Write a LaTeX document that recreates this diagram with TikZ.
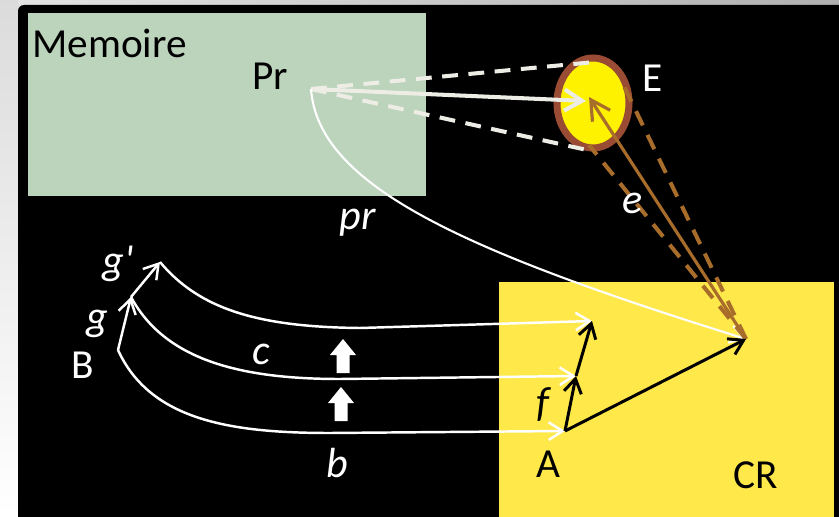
\documentclass[tikz,border=0pt]{standalone}
\usepackage{fontspec}
\setmainfont{Carlito}
\usetikzlibrary{arrows.meta, positioning, calc}
\definecolor{memGreen}{HTML}{BCD3BC}
\definecolor{crYellow}{HTML}{FFE84A}
\definecolor{eRim}{HTML}{9A4B33}
\definecolor{eBrown}{HTML}{A86C2B}
\definecolor{softWhite}{HTML}{EDEDE6}

\begin{document}
\begin{tikzpicture}[x=0.02cm, y=-0.02cm,
  big/.style={font=\fontsize{23.5}{27}\selectfont, inner sep=0pt},
  var/.style={font=\fontsize{24}{28}\selectfont\itshape, inner sep=0pt, white},
  barb/.style={-{Straight Barb[length=8pt, width=10pt]}},
  wcurve/.style={white, line width=1.4pt, barb},
  karrow/.style={black, line width=1.7pt, barb},
  dashline/.style={line width=2.3pt, dash pattern=on 9pt off 6pt}]
  % slide edge and black panel
  \shade[top color=gray!28, bottom color=white] (0,0) rectangle (839,517);
  \shade[left color=gray!22, right color=gray!62] (18,0) rectangle (839,6);
  \fill[black] (18,517) -- (18,11) arc[start angle=180, end angle=270, radius=6]
    -- (839,5) -- (839,517) -- cycle;
  % memory block and CR block
  \fill[memGreen] (28,13) rectangle (426,196);
  \fill[crYellow] (499,282) rectangle (834,517);
  \node[big, anchor=base west] (memoire) at (32,58) {Memoire};
  \node[big, anchor=base west] (prlbl) at (252,90) {Pr};
  \node[big, white, anchor=base west] (elbl) at (642,92) {E};
  \node[big, anchor=base west] (albl) at (536,477) {A};
  \node[big, anchor=base west] (crlbl) at (733,488) {CR};
  \node[big, white, anchor=base west] (blbl) at (71,378) {B};
  % points
  \coordinate (prpt) at (311,89);
  \coordinate (ectr) at (593,103);
  \coordinate (etop) at (595,62);
  \coordinate (ebot) at (587,150);
  \coordinate (ehit) at (586,101);
  \coordinate (ebrown) at (589,97);
  \coordinate (eleft) at (589,145);
  \coordinate (eright) at (620,78);
  \coordinate (crpt) at (746,339);
  \coordinate (bpt) at (118,350);
  \coordinate (gpt) at (131,297);
  \coordinate (gppt) at (160,262);
  \coordinate (apt) at (565,431);
  \coordinate (fa) at (576,376);
  \coordinate (fb) at (592,321);
  % E ball
  \draw[eRim, line width=4pt, fill=yellow] (ectr) ellipse [x radius=36, y radius=45];
  % Pr -> E
  \draw[softWhite, dashline] (prpt) -- (etop) (prpt) -- (ebot);
  \draw[softWhite, line width=2.3pt, -{Straight Barb[length=10pt, width=12pt]}] (prpt) -- (ehit);
  % pr
  \draw[wcurve, line width=1.2pt] (prpt) .. controls (318,185) and (460,250) .. (crpt);
  \node[var, anchor=base west] (prvar) at (339,230) {pr};
  % CR -> E
  \draw[eBrown, dashline] (crpt) -- (eleft) (crpt) -- (eright);
  \draw[eBrown, line width=1.8pt, -{Straight Barb[length=11pt, width=12pt]}] (crpt) -- (ebrown);
  \node[var, anchor=base west] (evar) at (622,214) {e};
  % g and g'
  \draw[wcurve] (bpt) -- (gpt);
  \draw[wcurve] (gpt) -- (gppt);
  \node[var, anchor=base west] (gvar) at (86,330) {g};
  \node[var, anchor=base west] (gpvar) at (102,275) {g\textquotesingle};
  % b, c and the top path
  \draw[wcurve] (bpt) .. controls (150,420) and (230,433) .. (330,433) -- (apt);
  \draw[wcurve] (gpt) .. controls (165,360) and (240,379) .. (340,379) -- (fa);
  \draw[wcurve] (gppt) .. controls (200,310) and (260,327) .. (360,328) -- (fb);
  \node[var, anchor=base west] (cvar) at (252,364) {c};
  \node[var, anchor=base west] (bvar) at (326,477) {b};
  % block arrows
  \foreach \bx/\by in {343/339, 341/387}
    \fill[white] (\bx,\by) -- ++(13,16) -- ++(-6.5,0) -- ++(0,18) -- ++(-13,0)
      -- ++(0,-18) -- ++(-6.5,0) -- cycle;
  % f and A -> CR
  \draw[karrow] (apt) -- (fa);
  \draw[karrow] (fa) -- (fb);
  \draw[karrow] (apt) -- (crpt);
  \node[var, black] (fvar) at (543,405) {f};
\end{tikzpicture}
\end{document}
